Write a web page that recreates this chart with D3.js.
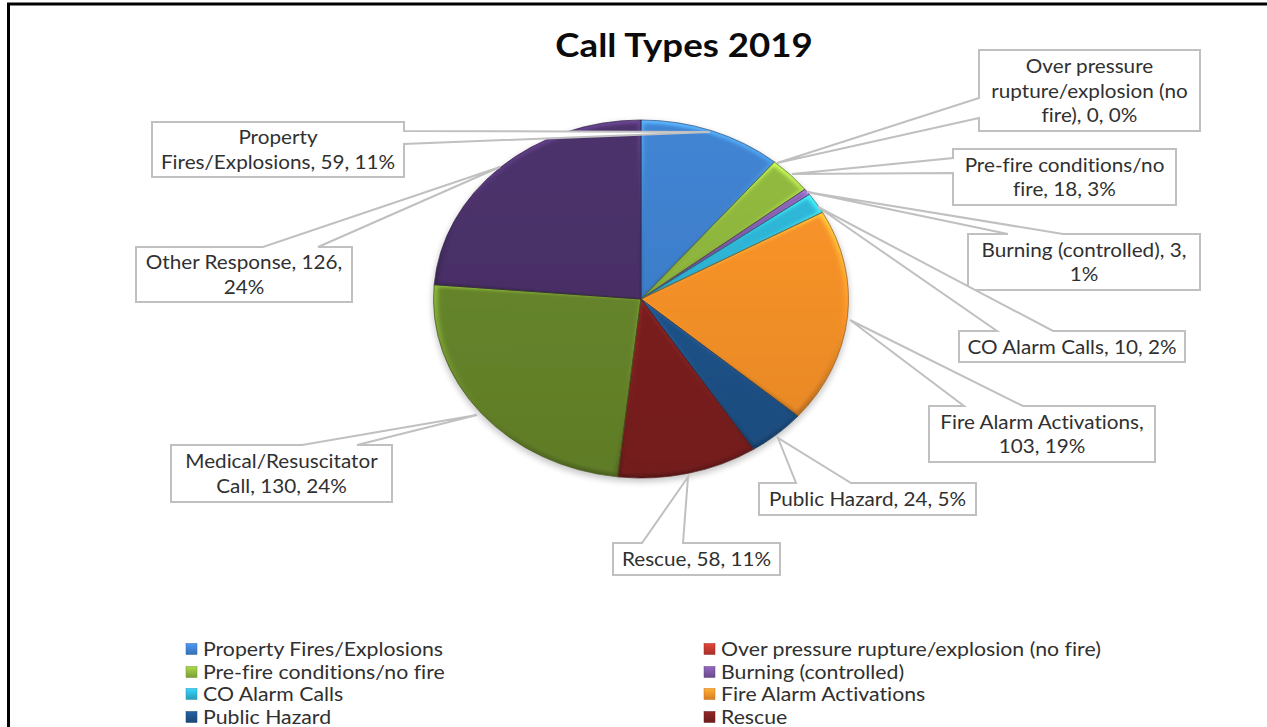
<!DOCTYPE html>
<html><head><meta charset="utf-8">
<script src="https://cdn.jsdelivr.net/npm/d3@7"></script>
<style>html,body{margin:0;padding:0;background:#fff;overflow:hidden}svg{display:block}text{font-variant-ligatures:none}</style>
</head><body><svg id="c" width="1267" height="727"></svg>
<script>
const categories = ["Property Fires/Explosions","Over pressure rupture/explosion (no fire)","Pre-fire conditions/no fire","Burning (controlled)","CO Alarm Calls","Fire Alarm Activations","Public Hazard","Rescue","Medical/Resuscitator Call","Other Response"];
const values = [59,0,18,3,10,103,24,58,130,126];
const colors = ["#3f80cd","#c0392f","#8fb63e","#7a57a0","#2fb5d6","#f79229","#1f5288","#7c2020","#67862a","#4a3068"];
const labelLines = [["Property","Fires/Explosions, 59, 11%"],["Over pressure","rupture/explosion (no","fire), 0, 0%"],["Pre-fire conditions/no","fire, 18, 3%"],["Burning (controlled), 3,","1%"],["CO Alarm Calls, 10, 2%"],["Fire Alarm Activations,","103, 19%"],["Public Hazard, 24, 5%"],["Rescue, 58, 11%"],["Medical/Resuscitator","Call, 130, 24%"],["Other Response, 126,","24%"]];
const boxes = [[152,122,404,177],[979,50,1200,131],[953,149,1176,205],[968,234,1200,290],[959,331,1185,362],[929,406,1155,462],[759,483,976,515],[613,543,780,575],[171,445,392,502],[136,247,352,302]];
const sides = ["right","left","left","top","top","top","top","top","top","top"];
const bases = [[131,144],[98,118],[158,173],[1008,1063],[997,1053],[964,1023],[796,851],[642,683],[302,357],[263,318]];
const tips = [[710,132],[777,163],[792,174],[807,192],[818,207],[850,320],[778,438],[688,477],[477,415],[500,167]];
const legendRows = [649,672,694,717];
const legendCols = [186,704];

const svg = d3.select("#c");
const defs = svg.append("defs");
const cx=641, cy=299, rx=207.5, ry=179;
const FONT="Lato, 'Open Sans', sans-serif";

const shadow = defs.append("filter").attr("id","sh").attr("x","-10%").attr("y","-10%").attr("width","120%").attr("height","125%");
shadow.append("feGaussianBlur").attr("stdDeviation",3);
const soft = defs.append("filter").attr("id","soft").attr("x","-20%").attr("y","-20%").attr("width","140%").attr("height","140%");
soft.append("feGaussianBlur").attr("stdDeviation",2);

colors.forEach((c,i)=>{
  const g = defs.append("linearGradient").attr("id","g"+i).attr("gradientUnits","userSpaceOnUse").attr("x1",0).attr("y1",-rx).attr("x2",0).attr("y2",rx);
  g.append("stop").attr("offset",0).attr("stop-color",d3.color(c).brighter(0.1));
  g.append("stop").attr("offset",1).attr("stop-color",d3.color(c).darker(0.22));
  const b = defs.append("linearGradient").attr("id","b"+i).attr("x1",0).attr("y1",0).attr("x2",0).attr("y2",1);
  b.append("stop").attr("offset",0).attr("stop-color",d3.color(c).brighter(1));
  b.append("stop").attr("offset",0.5).attr("stop-color",d3.color(c).brighter(.1));
  b.append("stop").attr("offset",1).attr("stop-color",d3.color(c).darker(.9));
  const l = defs.append("linearGradient").attr("id","l"+i).attr("x1",0).attr("y1",0).attr("x2",0).attr("y2",1);
  l.append("stop").attr("offset",0).attr("stop-color",d3.color(c).brighter(.5));
  l.append("stop").attr("offset",1).attr("stop-color",d3.color(c).darker(.4));
});

svg.append("path").attr("d","M8.5,727V4H1267").attr("fill","none").attr("stroke","#000").attr("stroke-width",3);

svg.append("text").attr("transform","translate(684,57) scale(1.11,1)").attr("text-anchor","middle")
  .attr("font-family",FONT).attr("font-weight",700).attr("font-size",33).attr("fill","#0b0b0b").text("Call Types 2019");

const pie = d3.pie().sort(null).value(d=>d)(values);
const arcE = d3.arc().innerRadius(0).outerRadius(rx);
const arcInner = d3.arc().innerRadius(0).outerRadius(rx-4);
const slices = pie.filter(d=>d.value>0);

svg.append("ellipse").attr("cx",cx).attr("cy",cy+3).attr("rx",rx+1).attr("ry",ry+1).attr("fill","#000").attr("opacity",.22).attr("filter","url(#sh)");

const gp = svg.append("g").attr("transform",`translate(${cx},${cy}) scale(1,${ry/rx})`);
defs.selectAll("clipPath.s").data(slices).join("clipPath").attr("class","s").attr("id",d=>"cp"+d.index)
  .append("path").attr("d",arcE);
const sg = gp.selectAll("g.slice").data(slices).join("g").attr("class","slice").attr("clip-path",d=>`url(#cp${d.index})`);
sg.append("path").attr("d",arcE).attr("fill",d=>`url(#b${d.index})`);
sg.append("path").attr("d",d=>{
    const w=d.endAngle-d.startAngle, inset=Math.min(.012,w/4);
    return arcInner({startAngle:d.startAngle+inset,endAngle:d.endAngle-inset});
  }).attr("fill",d=>`url(#g${d.index})`).attr("filter","url(#soft)");
gp.selectAll("path.edge").data(slices).join("path").attr("class","edge").attr("d",arcE).attr("fill","none")
  .attr("stroke",d=>d3.color(colors[d.index]).darker(1.3)).attr("stroke-opacity",.75).attr("stroke-width",1).attr("vector-effect","non-scaling-stroke");

const callouts = svg.append("g");
const poly = i=>{
  const [x0,y0,x1,y1]=boxes[i],[a,b]=bases[i],[tx,ty]=tips[i];
  if(sides[i]==="right") return `M${x0},${y0}H${x1}V${a}L${tx},${ty}L${x1},${b}V${y1}H${x0}Z`;
  if(sides[i]==="left") return `M${x0},${y0}H${x1}V${y1}H${x0}V${b}L${tx},${ty}L${x0},${a}Z`;
  return `M${x0},${y0}H${a}L${tx},${ty}L${b},${y0}H${x1}V${y1}H${x0}Z`;
};
callouts.selectAll("path").data(categories).join("path").attr("d",(d,i)=>poly(i)).attr("fill","#fff").attr("stroke","#c0c0c0").attr("stroke-width",2);
const lh=24.4, labelStretch=1.09, legendStretch=1.12;
categories.forEach((c,i)=>{
  const [x0,y0,x1,y1]=boxes[i], L=labelLines[i], mid=(x0+x1)/2, cyb=(y0+y1)/2;
  L.forEach((t,j)=>{
    callouts.append("text").attr("transform",`translate(${mid},${cyb+(j-(L.length-1)/2)*lh+7}) scale(${labelStretch},1)`).attr("text-anchor","middle")
      .attr("font-family",FONT).attr("font-size",19).attr("fill","#303030").text(t);
  });
});

const lg = svg.append("g");
categories.slice(0,8).forEach((c,i)=>{
  const x=legendCols[i%2], y=legendRows[Math.floor(i/2)];
  lg.append("rect").attr("x",x).attr("y",y-5.5).attr("width",11).attr("height",11).attr("fill",`url(#l${i})`).attr("stroke",d3.color(colors[i]).darker(.6)).attr("stroke-width",.5);
  lg.append("text").attr("transform",`translate(${x+17},${y+6.5}) scale(${legendStretch},1)`).attr("font-family",FONT).attr("font-size",19).attr("fill","#303030").text(c);
});
</script></body></html>
